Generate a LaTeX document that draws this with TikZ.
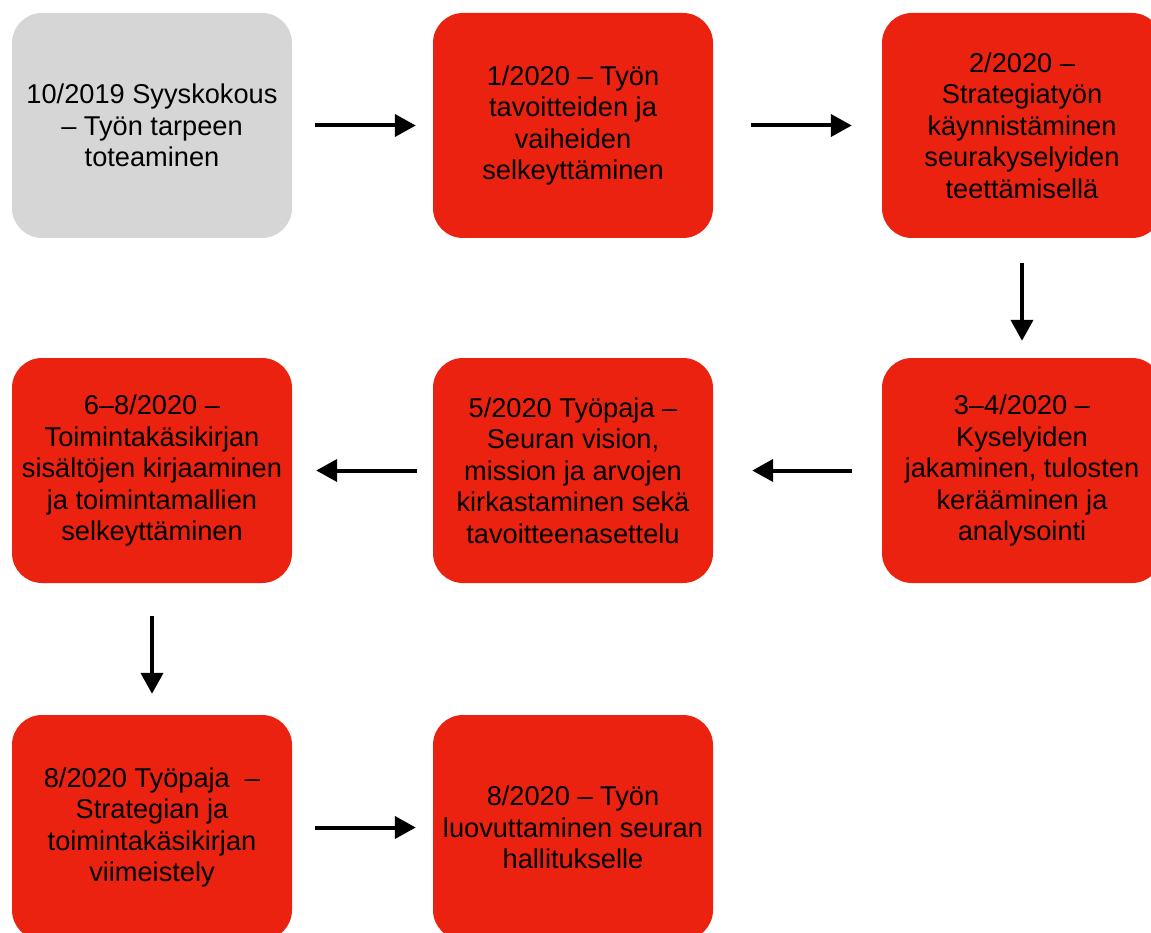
\documentclass[tikz,border=0pt]{standalone}
\usepackage{fontspec}
\setmainfont{Liberation Sans}
\usetikzlibrary{arrows.meta}
\definecolor{stagered}{RGB}{236,34,16}
\definecolor{stagegray}{RGB}{214,214,214}
\begin{document}
\begin{tikzpicture}[x=1pt,y=-1pt,
  stage/.style={rounded corners=30pt, minimum width=280pt, minimum height=225pt,
    fill=stagered, draw=none, inner sep=0pt, align=center,
    font=\fontsize{27.2}{31.5}\selectfont},
  donestage/.style={stage, fill=stagegray},
  flow/.style={-{Triangle[length=21pt,width=22pt]}, line width=4pt}]
\useasboundingbox (0,0) rectangle (1151,933);
\clip (0,0) rectangle (1151,933);

% first row: left to right
\node[donestage] (s1) at (152,125.5) {10/2019 Syyskokous\\– Työn tarpeen\\toteaminen};
\node[stage] (s2) at (573,125.5) {1/2020 – Työn\\tavoitteiden ja\\vaiheiden\\selkeyttäminen};
\node[stage] (s3) at (1022,125.5) {2/2020 –\\Strategiatyön\\käynnistäminen\\seurakyselyiden\\teettämisellä};

% second row: right to left
\node[stage] (s4) at (1022,470.5) {3–4/2020 –\\Kyselyiden\\jakaminen, tulosten\\kerääminen ja\\analysointi};
\node[stage] (s5) at (573,470.5) {5/2020 Työpaja –\\Seuran vision,\\mission ja arvojen\\kirkastaminen sekä\\tavoitteenasettelu};
\node[stage] (s6) at (152,470.5) {6–8/2020 –\\Toimintakäsikirjan\\sisältöjen kirjaaminen\\ja toimintamallien\\selkeyttäminen};

% third row
\node[stage] (s7) at (152,827.5) {8/2020 Työpaja\ \ –\\Strategian ja\\toimintakäsikirjan\\viimeistely};
\node[stage] (s8) at (573,827.5) {8/2020 – Työn\\luovuttaminen seuran\\hallitukselle};

% connectors
\draw[flow, shorten <=23pt, shorten >=17pt] (s1.east) -- (s2.west);
\draw[flow, shorten <=38pt, shorten >=30pt] (s2.east) -- (s3.west);
\draw[flow, shorten <=25pt, shorten >=17pt] (s3.south) -- (s4.north);
\draw[flow, shorten <=30pt, shorten >=39pt] (s4.west) -- (s5.east);
\draw[flow, shorten <=16pt, shorten >=24pt] (s5.west) -- (s6.east);
\draw[flow, shorten <=33pt, shorten >=21pt] (s6.south) -- (s7.north);
\draw[flow, shorten <=23pt, shorten >=17pt] (s7.east) -- (s8.west);
\end{tikzpicture}
\end{document}
